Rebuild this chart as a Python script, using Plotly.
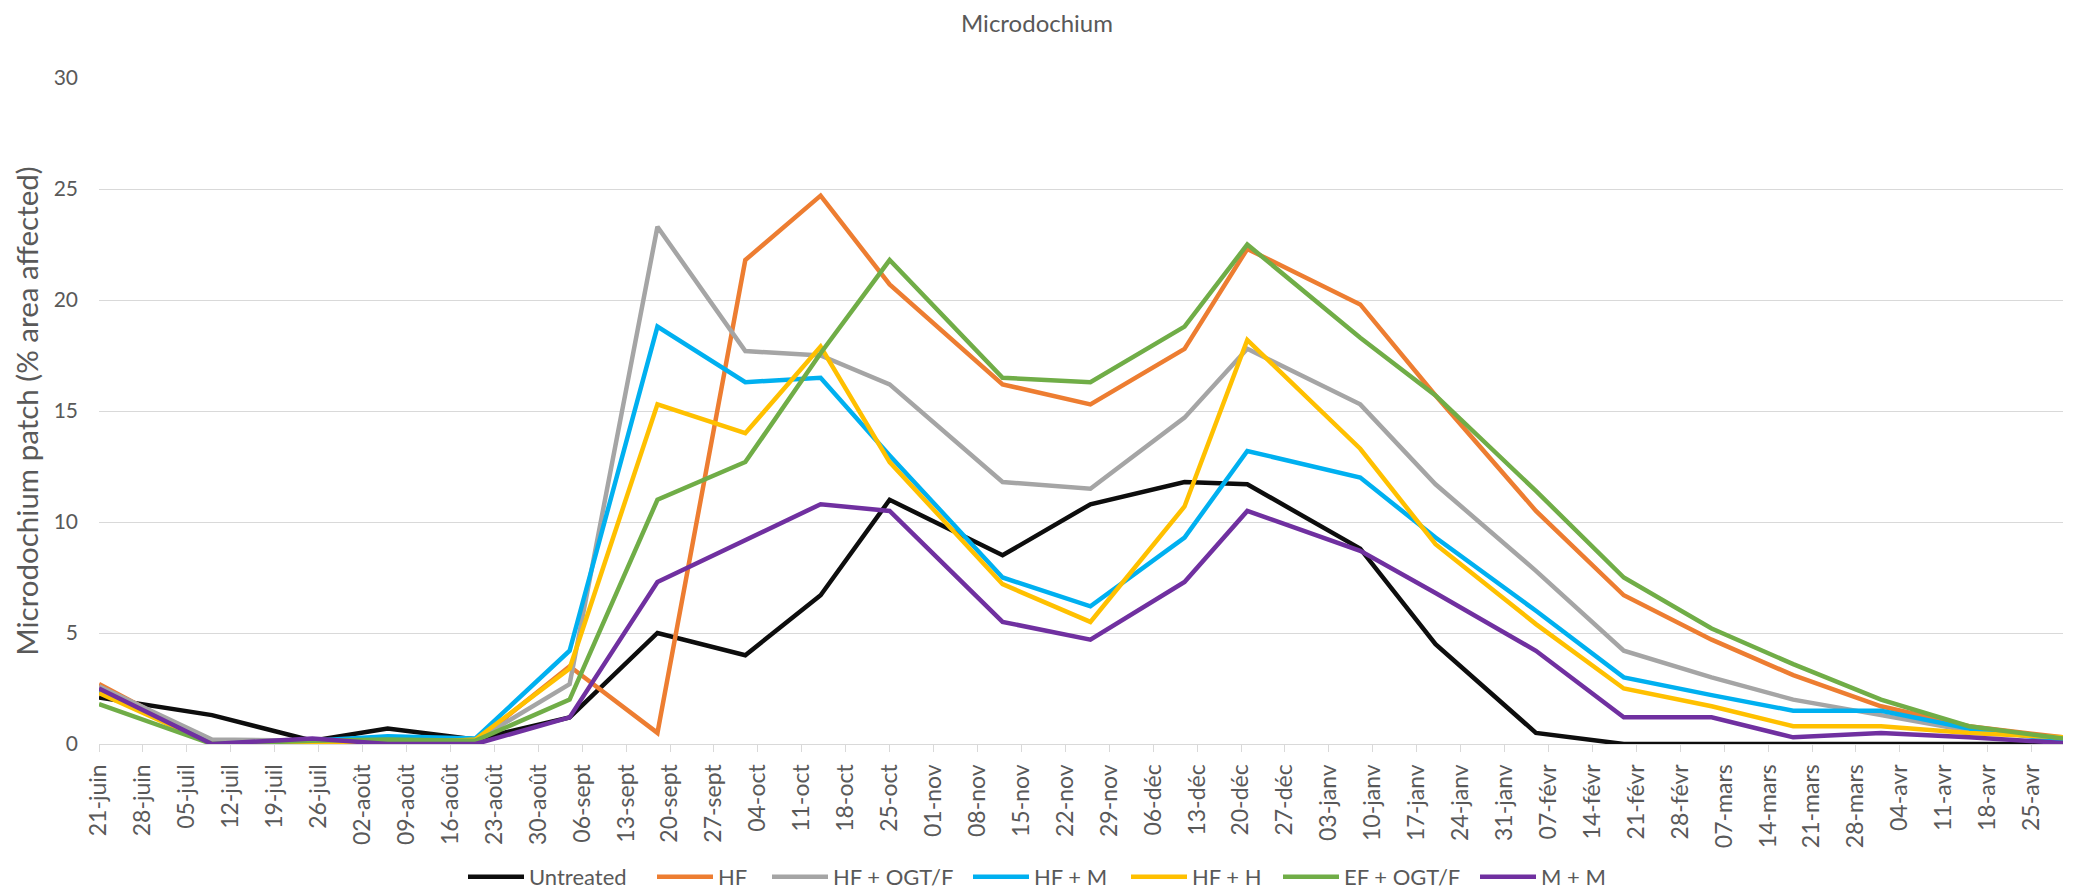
import pandas as pd
import plotly.graph_objects as go

# ---- data ----
dates = ["2021-06-21", "2021-07-09", "2021-07-25", "2021-08-06", "2021-08-20",
         "2021-09-04", "2021-09-18", "2021-10-02", "2021-10-14", "2021-10-25",
         "2021-11-12", "2021-11-26", "2021-12-11", "2021-12-21", "2022-01-08",
         "2022-01-20", "2022-02-05", "2022-02-19", "2022-03-05", "2022-03-18",
         "2022-04-01", "2022-04-15", "2022-04-30"]

untreated = [2.1, 1.3, 0.15, 0.7, 0.2, 1.2, 5.0, 4.0, 6.7, 11.0, 8.5, 10.8,
             11.8, 11.7, 8.8, 4.5, 0.5, 0.0, 0.0, 0.0, 0.0, 0.0, 0.0]
hf = [2.7, 0.0, 0.0, 0.0, 0.1, 3.5, 0.5, 21.8, 24.7, 20.7, 16.2, 15.3,
      17.8, 22.3, 19.8, 15.7, 10.5, 6.7, 4.7, 3.1, 1.7, 0.8, 0.3]
hf_ogt = [2.6, 0.2, 0.15, 0.1, 0.15, 2.7, 23.3, 17.7, 17.5, 16.2, 11.8, 11.5,
          14.7, 17.8, 15.3, 11.7, 7.8, 4.2, 3.0, 2.0, 1.3, 0.6, 0.25]
hf_m = [2.4, 0.0, 0.15, 0.35, 0.25, 4.2, 18.8, 16.3, 16.5, 13.0, 7.5, 6.2,
        9.3, 13.2, 12.0, 9.3, 6.0, 3.0, 2.2, 1.5, 1.5, 0.7, 0.15]
hf_h = [2.3, 0.0, 0.0, 0.0, 0.2, 3.4, 15.3, 14.0, 17.9, 12.7, 7.2, 5.5,
        10.7, 18.2, 13.3, 9.0, 5.4, 2.5, 1.7, 0.8, 0.8, 0.5, 0.3]
ef_ogt = [1.8, 0.0, 0.15, 0.2, 0.15, 2.0, 11.0, 12.7, 17.6, 21.8, 16.5, 16.3,
          18.8, 22.5, 18.3, 15.7, 11.4, 7.5, 5.2, 3.6, 2.0, 0.8, 0.25]
m_m = [2.5, 0.0, 0.25, 0.0, 0.0, 1.2, 7.3, 9.2, 10.8, 10.5, 5.5, 4.7,
       7.3, 10.5, 8.7, 6.8, 4.2, 1.2, 1.2, 0.3, 0.5, 0.3, 0.05]

series_names = ["Untreated", "HF", "HF + OGT/F", "HF + M", "HF + H", "EF + OGT/F", "M + M"]
series_values = [untreated, hf, hf_ogt, hf_m, hf_h, ef_ogt, m_m]
series_colors = ["#0D0D0D", "#ED7D31", "#A5A5A5", "#00B0F0", "#FFC000", "#70AD47", "#7030A0"]

tick_labels = ["21-juin", "28-juin", "05-juil", "12-juil", "19-juil", "26-juil",
               "02-août", "09-août", "16-août", "23-août", "30-août", "06-sept",
               "13-sept", "20-sept", "27-sept", "04-oct", "11-oct", "18-oct",
               "25-oct", "01-nov", "08-nov", "15-nov", "22-nov", "29-nov",
               "06-déc", "13-déc", "20-déc", "27-déc", "03-janv", "10-janv",
               "17-janv", "24-janv", "31-janv", "07-févr", "14-févr", "21-févr",
               "28-févr", "07-mars", "14-mars", "21-mars", "28-mars", "04-avr",
               "11-avr", "18-avr", "25-avr"]
tick_dates = pd.date_range("2021-06-21", periods=len(tick_labels), freq="7D")

# ---- layout geometry (pixels) ----
W, H = 2074, 892
plot_left, plot_right = 99, 2063
plot_top, plot_bottom = 78, 744
legend_line_starts = [468, 657, 772, 973, 1131, 1283, 1480]
legend_bottom_y = 898

FONT = "Lato"
GREY = "#595959"

fig = go.Figure()
for i, (name, vals, col) in enumerate(zip(series_names, series_values, series_colors)):
    fig.add_trace(go.Scatter(
        x=pd.to_datetime(dates), y=vals, name=name, mode="lines",
        line=dict(color=col, width=4.5),
        legend="legend" if i == 0 else f"legend{i + 1}",
    ))

pw = plot_right - plot_left
ph = plot_bottom - plot_top
leg_y = (plot_bottom - legend_bottom_y) / ph
legends = {}
for i, xs in enumerate(legend_line_starts):
    key = "legend" if i == 0 else f"legend{i + 1}"
    legends[key] = dict(
        orientation="h", x=(xs - 5 - plot_left) / pw, xanchor="left",
        y=leg_y, yanchor="bottom", itemwidth=56,
        font=dict(family=FONT, size=22, color=GREY),
        bgcolor="rgba(0,0,0,0)", borderwidth=0,
    )

fig.update_layout(
    width=W, height=H,
    margin=dict(l=plot_left, r=W - plot_right, t=plot_top, b=H - plot_bottom, autoexpand=False),
    paper_bgcolor="white", plot_bgcolor="white",
    font=dict(family=FONT, color=GREY),
    title=dict(text="Microdochium", x=0.5, xref="container", xanchor="center",
               y=1 - 24 / H, yref="container", yanchor="middle",
               font=dict(family=FONT, size=24, color=GREY)),
    xaxis=dict(
        type="date", range=[dates[0], dates[-1]],
        tickmode="array", tickvals=tick_dates, ticktext=tick_labels,
        tickangle=-90, tickfont=dict(family=FONT, size=23, color=GREY),
        ticks="outside", ticklen=7, tickwidth=1.3, tickcolor="#D9D9D9",
        ticklabelstandoff=3,
        showline=True, linecolor="#D9D9D9", linewidth=1.3,
        showgrid=False, zeroline=False, automargin=False,
    ),
    yaxis=dict(
        range=[0, 30], tickmode="linear", tick0=0, dtick=5,
        tickfont=dict(family=FONT, size=21, color=GREY),
        ticks="", ticklabelstandoff=20,
        showgrid=True, gridcolor="#D9D9D9", gridwidth=1.3,
        zeroline=False, showline=False, automargin=False,
        title=dict(text="Microdochium patch (% area affected)", standoff=6,
                   font=dict(family=FONT, size=29.5, color=GREY)),
    ),
    showlegend=True,
    **legends,
)

fig.write_html("out.html", config={"displayModeBar": False},
               post_script="document.body.style.margin='0';document.body.style.overflow='hidden';")
